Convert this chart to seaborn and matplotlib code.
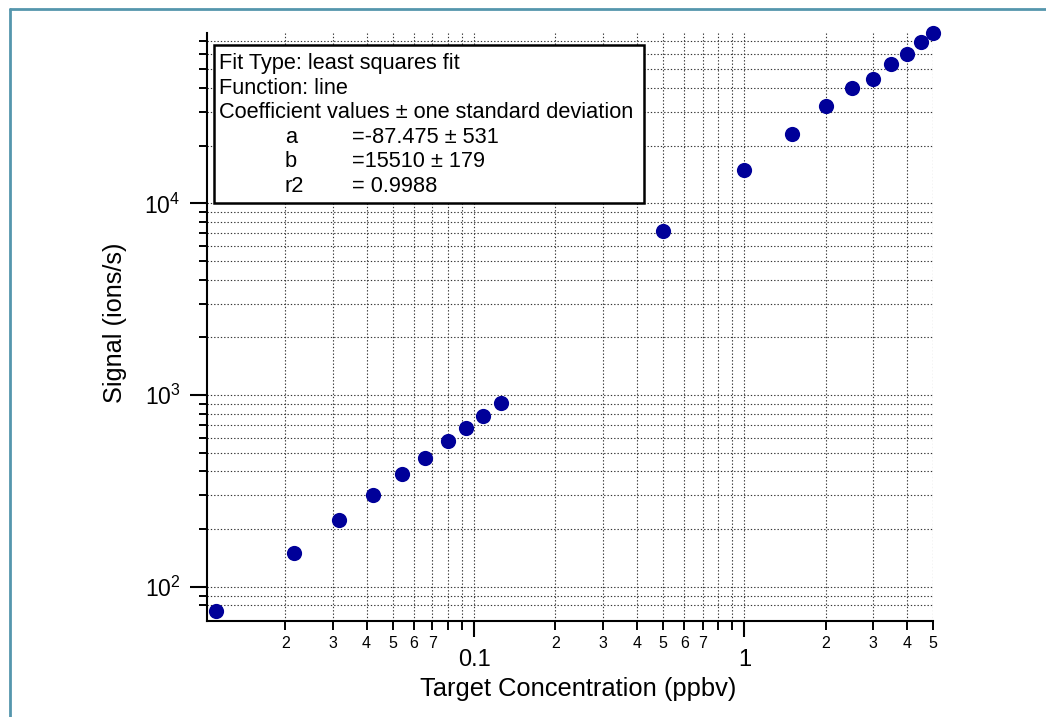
import matplotlib
matplotlib.use("Agg")
import matplotlib.pyplot as plt
import seaborn as sns
import pandas as pd
from matplotlib.patches import Rectangle
from matplotlib.lines import Line2D
from matplotlib.ticker import FixedLocator, FixedFormatter

# ---- data ----
conc = [0.01108, 0.02159, 0.0316, 0.0423, 0.0540, 0.06555, 0.0801, 0.0937,
        0.1080, 0.1255, 0.50, 1.0, 1.5, 2.0, 2.5, 3.0, 3.5, 4.0, 4.5, 5.0]
signal = [74.7, 150.4, 222.8, 299.8, 385.8, 470.9, 575.6, 672.9, 779.8,
          904.8, 7170, 14920, 23080, 32060, 39810, 44670, 53300, 60310,
          69410, 77060]

x_major = [0.1, 1]
x_major_labels = ["0.1", "1"]
x_minor = [0.02, 0.03, 0.04, 0.05, 0.06, 0.07, 0.08, 0.09,
           0.2, 0.3, 0.4, 0.5, 0.6, 0.7, 0.8, 0.9,
           2, 3, 4, 5]
x_minor_labels = ["2", "3", "4", "5", "6", "7", "", "",
                  "2", "3", "4", "5", "6", "7", "", "",
                  "2", "3", "4", "5"]
y_major = [100, 1000, 10000]
y_major_labels = [r"$\mathregular{10^{2}}$", r"$\mathregular{10^{3}}$",
                  r"$\mathregular{10^{4}}$"]
y_minor = [80, 90, 200, 300, 400, 500, 600, 700, 800, 900,
           2000, 3000, 4000, 5000, 6000, 7000, 8000, 9000,
           20000, 30000, 40000, 50000, 60000, 70000]

fit_lines = ["Fit Type: least squares fit",
             "Function: line",
             "Coefficient values \u00b1 one standard deviation"]
coef_names = ["a", "b", "r2"]
coef_values = ["=-87.475 \u00b1 531", "=15510 \u00b1 179", "= 0.9988"]

x_label = "Target Concentration (ppbv)"
y_label = "Signal (ions/s)"

# ---- style ----
sns.set_style("white")
plt.rcParams["font.family"] = ["Liberation Sans", "DejaVu Sans"]
plt.rcParams["mathtext.fontset"] = "custom"
plt.rcParams["mathtext.rm"] = "Liberation Sans"
plt.rcParams["mathtext.it"] = "Liberation Sans:italic"
plt.rcParams["mathtext.bf"] = "Liberation Sans:bold"
for key in ["text.color", "axes.labelcolor", "xtick.color", "ytick.color"]:
    plt.rcParams[key] = "black"

W, H = 1046, 717
fig = plt.figure(figsize=(W / 100, H / 100), dpi=100)
fig.patch.set_facecolor("white")

ax_l, ax_r, ax_t, ax_b = 207, 933.3, 33, 621
ax = fig.add_axes([ax_l / W, 1 - ax_b / H, (ax_r - ax_l) / W, (ax_b - ax_t) / H])
ax.set_facecolor("white")

df = pd.DataFrame({"conc": conc, "signal": signal})
sns.scatterplot(data=df, x="conc", y="signal", ax=ax, s=120, color="#000099",
                linewidth=0, zorder=5, clip_on=False, legend=False)

ax.set_xscale("log")
ax.set_yscale("log")
ax.set_xlim(0.01027, 5.0)
ax.set_ylim(66.4, 77300)

ax.xaxis.set_major_locator(FixedLocator(x_major))
ax.xaxis.set_major_formatter(FixedFormatter(x_major_labels))
ax.xaxis.set_minor_locator(FixedLocator(x_minor))
ax.xaxis.set_minor_formatter(FixedFormatter(x_minor_labels))
ax.yaxis.set_major_locator(FixedLocator(y_major))
ax.yaxis.set_major_formatter(FixedFormatter(y_major_labels))
ax.yaxis.set_minor_locator(FixedLocator(y_minor))
ax.yaxis.set_minor_formatter(FixedFormatter([""] * len(y_minor)))

for side in ["top", "right"]:
    ax.spines[side].set_visible(False)
for side in ["left", "bottom"]:
    ax.spines[side].set_linewidth(1.5)
    ax.spines[side].set_color("black")

ax.tick_params(axis="x", which="both", bottom=True, top=False)
ax.tick_params(axis="y", which="both", left=True, right=False)
ax.tick_params(axis="x", which="major", direction="out", length=11.5, width=1.5,
               labelsize=17, pad=9, color="black", labelcolor="black")
ax.tick_params(axis="x", which="minor", direction="out", length=6.5, width=1.4,
               labelsize=11.5, pad=4, color="black", labelcolor="black")
ax.tick_params(axis="y", which="major", direction="out", length=12, width=1.5,
               labelsize=16.5, pad=7, color="black", labelcolor="black")
ax.tick_params(axis="y", which="minor", direction="out", length=6, width=1.4,
               color="black")

ax.grid(True, which="both", axis="both", color="#333333", linewidth=0.8,
        linestyle=(0, (1.2, 1.8)))
ax.set_axisbelow(True)

ax.set_xlabel(x_label, fontsize=18.4)
ax.set_ylabel(y_label, fontsize=18.2)
ax.xaxis.set_label_coords((578 - ax_l) / (ax_r - ax_l), (ax_b - 689) / (ax_b - ax_t))
ax.xaxis.label.set_va("center")
ax.yaxis.set_label_coords((115 - ax_l) / (ax_r - ax_l), (ax_b - 323) / (ax_b - ax_t))
ax.yaxis.label.set_va("center")

# ---- fit annotation box ----
def fx(px):
    return px / W

def fy(py):
    return 1 - py / H

box = Rectangle((fx(213.5), fy(202.5)), fx(644) - fx(213.5), fy(45) - fy(202.5),
                transform=fig.transFigure, facecolor="white", edgecolor="black",
                linewidth=1.8, zorder=10, clip_on=False)
ax.add_patch(box)

fs_box = 15.7
baselines = [69, 93.6, 118.2, 142.8, 167.4, 192]
for i, line in enumerate(fit_lines):
    ax.text(fx(219), fy(baselines[i]), line, transform=fig.transFigure,
            fontsize=fs_box, va="baseline", ha="left", zorder=11)
for j, (nm, val) in enumerate(zip(coef_names, coef_values)):
    ax.text(fx(285), fy(baselines[3 + j]), nm, transform=fig.transFigure,
            fontsize=fs_box, va="baseline", ha="left", zorder=11)
    ax.text(fx(352), fy(baselines[3 + j]), val, transform=fig.transFigure,
            fontsize=fs_box, va="baseline", ha="left", zorder=11)

# ---- outer frame lines (top and left) ----
frame_color = "#5596ad"
fig.add_artist(Line2D([fx(10), 1.0], [fy(9), fy(9)], color=frame_color,
                      linewidth=2, transform=fig.transFigure))
fig.add_artist(Line2D([fx(10), fx(10)], [fy(9), 0.0], color=frame_color,
                      linewidth=2, transform=fig.transFigure))

fig.savefig("out.png", dpi=100, facecolor="white")
